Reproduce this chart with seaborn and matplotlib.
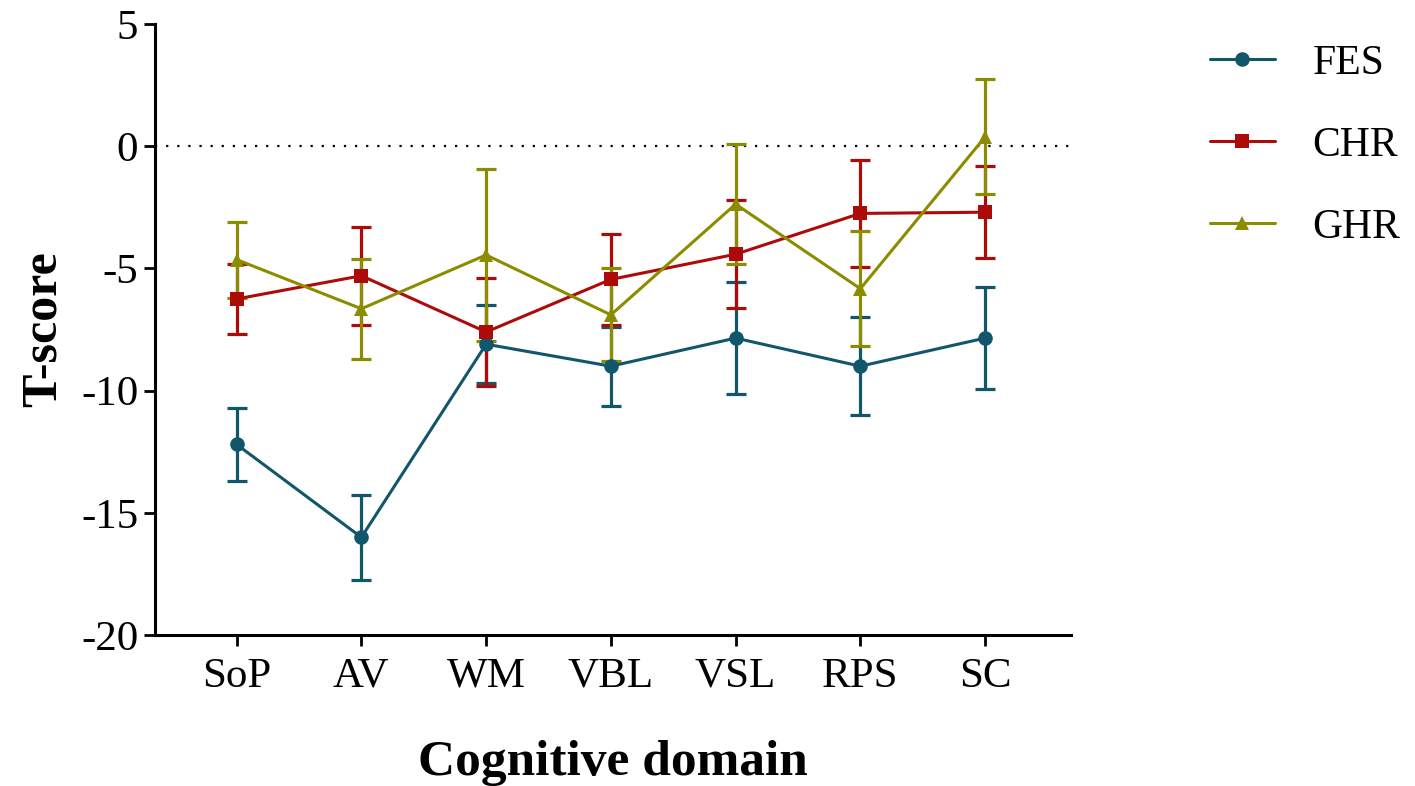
import seaborn as sns
import matplotlib.pyplot as plt
import pandas as pd

# data
domains = ['SoP', 'AV', 'WM', 'VBL', 'VSL', 'RPS', 'SC']
fes = [-12.2, -16.0, -8.1, -9.0, -7.85, -9.0, -7.85]
fes_err = [1.5, 1.75, 1.6, 1.62, 2.3, 2.0, 2.07]
chr_ = [-6.25, -5.3, -7.6, -5.45, -4.42, -2.75, -2.7]
chr_err = [1.45, 2.0, 2.2, 1.85, 2.2, 2.2, 1.87]
ghr = [-4.64, -6.65, -4.45, -6.9, -2.37, -5.83, 0.38]
ghr_err = [1.55, 2.05, 3.5, 1.9, 2.45, 2.35, 2.35]

groups = ['FES', 'CHR', 'GHR']
colors = ['#12566b', '#ad0a0a', '#8c8c00']
markers = ['o', 's', '^']

sns.set_style('ticks')
plt.rcParams['font.family'] = ['Liberation Serif', 'DejaVu Serif']
plt.rcParams['axes.unicode_minus'] = False
plt.rcParams['text.color'] = 'black'
plt.rcParams['axes.labelcolor'] = 'black'
plt.rcParams['xtick.color'] = 'black'
plt.rcParams['ytick.color'] = 'black'

df = pd.DataFrame({
    'x': list(range(len(domains))) * 3,
    'score': fes + chr_ + ghr,
    'err': fes_err + chr_err + ghr_err,
    'group': [g for g in groups for _ in domains],
})

fig = plt.figure(figsize=(14.15, 7.86), dpi=100)
ax = fig.add_axes([0.1095, 0.192, 0.6475, 0.7775])

ax.axhline(0, color='black', linestyle=(0, (1, 4)), linewidth=1.6, zorder=1)

for g, c, m in zip(groups, colors, markers):
    sub = df[df['group'] == g]
    ax.errorbar(sub['x'], sub['score'], yerr=sub['err'], fmt='none',
                ecolor=c, elinewidth=2.3, capsize=7, capthick=2.3, zorder=2)

sns.lineplot(data=df, x='x', y='score', hue='group', style='group',
             palette=dict(zip(groups, colors)), markers=dict(zip(groups, markers)),
             dashes=False, linewidth=2.2, markersize=10.5, markeredgewidth=0,
             ax=ax, zorder=3)

ax.set_xlim(-0.655, 6.69)
ax.set_ylim(-20, 5)
ax.set_yticks([5, 0, -5, -10, -15, -20])
ax.set_xticks(range(len(domains)))
ax.set_xticklabels(domains)
ax.tick_params(axis='both', labelsize=31, width=2, length=8, color='black')
ax.tick_params(axis='x', pad=8)
ax.tick_params(axis='y', pad=4)
for s in ['left', 'bottom']:
    ax.spines[s].set_linewidth(2.2)
    ax.spines[s].set_color('black')
sns.despine(ax=ax)

ax.set_xlabel('Cognitive domain', fontsize=37, fontweight='bold', labelpad=32)
ax.set_ylabel('T-score', fontsize=36, fontweight='bold', labelpad=10)

handles, labels = ax.get_legend_handles_labels()
ax.legend(handles, labels, loc='upper left', bbox_to_anchor=(0.855, 0.944),
          bbox_transform=fig.transFigure, frameon=False, fontsize=30,
          handlelength=1.56, labelspacing=1.05, handletextpad=0.9,
          borderaxespad=0, borderpad=0)

fig.savefig('out.png', dpi=100)
